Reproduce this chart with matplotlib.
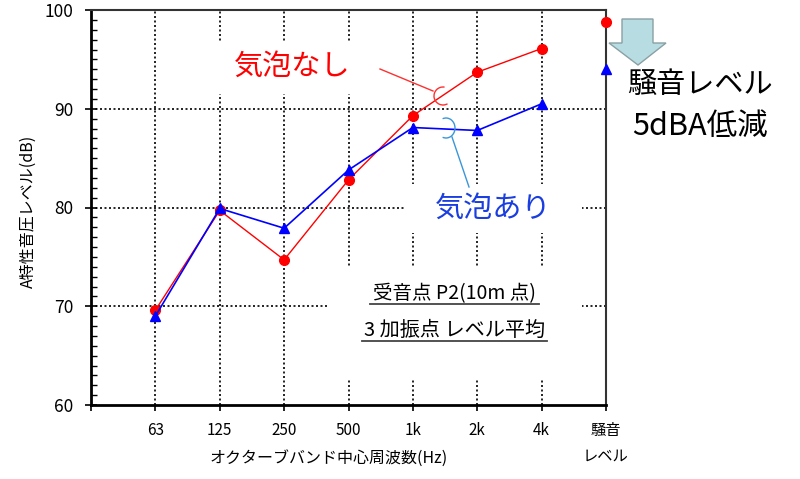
import matplotlib
matplotlib.use("Agg")
import matplotlib.pyplot as plt
from matplotlib.patches import Rectangle, Arc, Polygon
from matplotlib.lines import Line2D

plt.rcParams['font.family'] = ['Noto Sans CJK JP', 'DejaVu Sans']

# ---- data ----
categories = ['63', '125', '250', '500', '1k', '2k', '4k', '騒音']
no_bubble = [69.6, 79.7, 74.7, 82.8, 89.3, 93.7, 96.1, 98.8]   # 気泡なし
with_bubble = [69.0, 79.9, 77.9, 83.8, 88.1, 87.8, 90.5, 94.0]  # 気泡あり
y_ticks = [60, 70, 80, 90, 100]

W, H = 800, 479
fig = plt.figure(figsize=(W / 100, H / 100), dpi=100)
ax = fig.add_axes([91 / W, 1 - 405 / H, (606 - 91) / W, (405 - 10) / H])

def P(x, y):
    return (x / W, 1 - y / H)

xs = list(range(1, len(categories) + 1))
n = len(categories) - 1

ax.plot(xs[:n], no_bubble[:n], color='#ff0000', lw=1.0, marker='o', ms=7,
        zorder=3, clip_on=False)
ax.plot(xs[n:], no_bubble[n:], color='#ff0000', lw=0, marker='o', ms=7,
        zorder=5, clip_on=False)
ax.plot(xs[:n], with_bubble[:n], color='#0000ff', lw=1.2, marker='^', ms=7.5,
        zorder=3.5, clip_on=False)
ax.plot(xs[n:], with_bubble[n:], color='#0000ff', lw=0, marker='^', ms=7.5,
        zorder=5, clip_on=False)

ax.set_xlim(0, 8)
ax.set_ylim(60, 100)
ax.set_xticks(range(0, 9))
ax.set_xticklabels([''] + categories, fontsize=11)
ax.set_yticks(y_ticks)
ax.set_yticklabels([str(v) for v in y_ticks], fontsize=12.5)
ax.set_yticks(range(60, 101), minor=True)
ax.tick_params(axis='x', direction='out', length=4, width=1.2, pad=8)
ax.tick_params(axis='y', which='major', direction='inout', length=9, width=1.2, pad=8)
ax.tick_params(axis='y', which='minor', direction='in', length=4, width=1.0)

# grid (dotted) at categories 1..7 and 70, 80, 90
ax.set_axisbelow(True)
for xv in range(1, 8):
    ax.axvline(xv, color='black', lw=1.2, ls=(0, (1.2, 1.5)), zorder=0.5)
for yv in (70, 80, 90):
    ax.axhline(yv, color='black', lw=1.2, ls=(0, (1.2, 1.5)), zorder=0.5)

for s in ('left', 'bottom'):
    ax.spines[s].set_linewidth(2.0)
for s in ('top', 'right'):
    ax.spines[s].set_linewidth(1.5)
    ax.spines[s].set_color('#333333')

# white boxes behind texts (break the grid)
for (x0, y0, x1, y1) in [(198, 43, 385, 94), (406, 184, 582, 233), (327, 267, 582, 378)]:
    ax.add_patch(Rectangle(P(x0, y1), (x1 - x0) / W, (y1 - y0) / H,
                           transform=fig.transFigure, facecolor='white',
                           edgecolor='none', zorder=1, clip_on=False))

# axis labels
fig.text(*P(28, 211), 'A特性音圧レベル(dB)', fontsize=11.5, rotation=90,
         ha='center', va='center')
fig.text(*P(329, 458), 'オクターブバンド中心周波数(Hz)', fontsize=11.5,
         ha='center', va='center')
fig.text(*P(606, 456), 'レベル', fontsize=11, ha='center', va='center')

# annotations
fig.text(*P(292, 67), '気泡なし', color='#ff0000', fontsize=21, ha='center',
         va='center', zorder=6)
fig.text(*P(493, 209), '気泡あり', color='#1a3ee0', fontsize=21, ha='center',
         va='center', zorder=6)
fig.text(*P(700, 85), '騒音レベル', color='black', fontsize=21, ha='center',
         va='center')
fig.text(*P(700, 126), '5dBA低減', color='black', fontsize=22, ha='center',
         va='center')
fig.text(*P(454, 294), '受音点 P2(10m 点)', fontsize=14, ha='center',
         va='center', zorder=6)
fig.text(*P(455, 330), '3 加振点 レベル平均', fontsize=14.5, ha='center',
         va='center', zorder=6)
for (xa, xb, yy) in [(370, 539, 304), (362, 547, 341)]:
    fig.add_artist(Line2D([xa / W, xb / W], [1 - yy / H, 1 - yy / H],
                          transform=fig.transFigure, color='#444444', lw=1.3))

# callout lines
fig.add_artist(Line2D([380 / W, 433 / W], [1 - 69 / H, 1 - 91 / H],
                      transform=fig.transFigure, color='#ff3030', lw=1.0))
fig.add_artist(Arc((443, H - 96), 18, 18, theta1=80, theta2=300,
                   transform=None, color='#ff3030', lw=1.0))
fig.add_artist(Line2D([469 / W, 452 / W], [1 - 187 / H, 1 - 137 / H],
                      transform=fig.transFigure, color='#3a96d8', lw=1.0))
fig.add_artist(Arc((446, H - 128), 18, 20, theta1=-110, theta2=110,
                   transform=None, color='#3a96d8', lw=1.0))

# down arrow
pts = [(622, 19), (653, 19), (653, 43), (666, 43), (638, 65), (609, 43), (622, 43)]
fig.add_artist(Polygon([P(x, y) for x, y in pts], closed=True,
                       transform=fig.transFigure, facecolor='#b7dde2',
                       edgecolor='#8aa0a4', lw=1.0))

fig.savefig('out.png', dpi=100)
